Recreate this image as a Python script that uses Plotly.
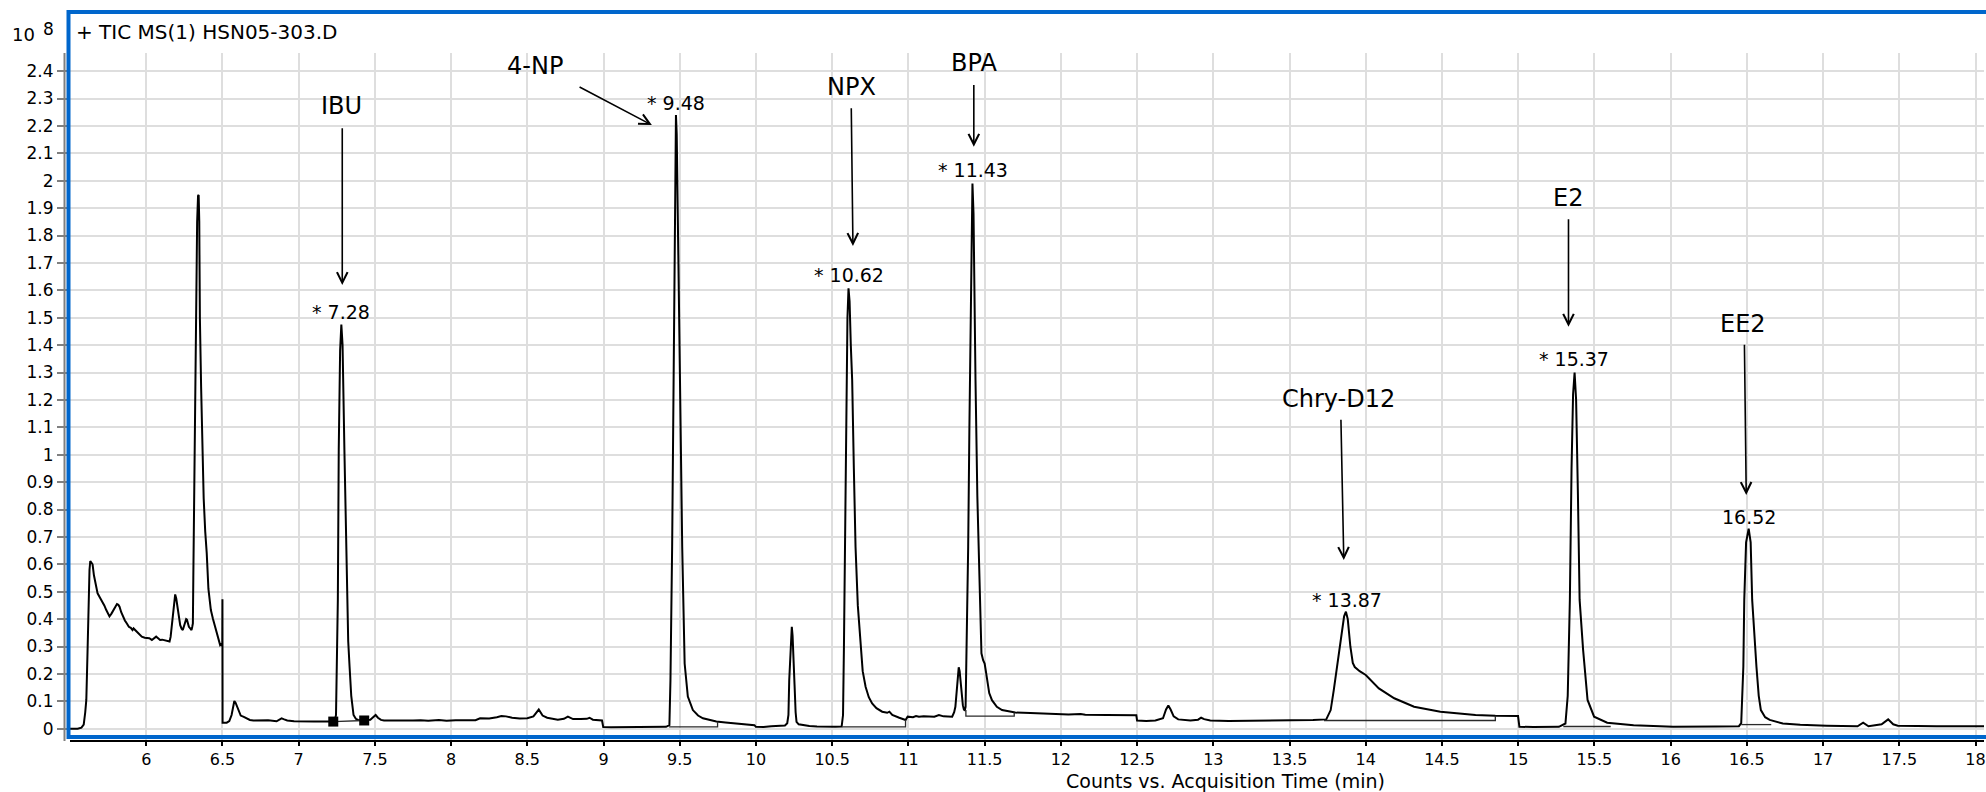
import plotly.graph_objects as go

# ---------------- data ----------------
# TIC chromatogram: acquisition time (min) and counts (x 10^8)
time_min = [
    5.50, 5.55, 5.575, 5.59, 5.60, 5.607, 5.615, 5.622, 5.628, 5.633, 5.640, 5.648, 5.657, 5.666,
    5.674, 5.681, 5.695, 5.709, 5.725, 5.738, 5.749, 5.759, 5.772, 5.786, 5.800, 5.808, 5.817,
    5.825, 5.836, 5.847, 5.860, 5.873, 5.886, 5.899, 5.910, 5.917, 5.930, 5.943, 5.957, 5.971,
    5.990, 6.004, 6.020, 6.037, 6.050, 6.065, 6.078, 6.091, 6.105, 6.124, 6.140, 6.153, 6.160,
    6.168, 6.178, 6.190, 6.197, 6.205, 6.214, 6.223, 6.232, 6.240, 6.248, 6.256, 6.262, 6.267,
    6.273, 6.280, 6.290, 6.297, 6.302, 6.306, 6.309, 6.318, 6.326, 6.334, 6.340, 6.344, 6.348,
    6.352, 6.360, 6.368, 6.377, 6.387, 6.397, 6.408, 6.416, 6.424, 6.438, 6.452, 6.463, 6.474,
    6.485, 6.495, 6.499, 6.500, 6.501, 6.528, 6.545, 6.560, 6.572, 6.578, 6.586, 6.598, 6.608,
    6.620, 6.640, 6.660, 6.680, 6.703, 6.750, 6.800, 6.855, 6.875, 6.888, 6.905, 6.925, 6.970,
    7.008, 7.100, 7.200, 7.236, 7.245, 7.250, 7.257, 7.263, 7.272, 7.280, 7.288, 7.300, 7.316,
    7.325, 7.334, 7.345, 7.360, 7.375, 7.390, 7.430, 7.470, 7.490, 7.505, 7.520, 7.540, 7.560,
    7.650, 7.750, 7.800, 7.850, 7.920, 7.970, 8.030, 8.100, 8.160, 8.190, 8.250, 8.300, 8.330,
    8.360, 8.400, 8.450, 8.500, 8.540, 8.575, 8.600, 8.630, 8.700, 8.740, 8.766, 8.785, 8.800,
    8.850, 8.890, 8.908, 8.930, 8.990, 8.998, 9.050, 9.150, 9.300, 9.410, 9.432, 9.439, 9.450,
    9.459, 9.466, 9.471, 9.475, 9.480, 9.488, 9.497, 9.503, 9.516, 9.532, 9.553, 9.586, 9.620,
    9.652, 9.700, 9.740, 9.800, 9.860, 9.910, 9.960, 9.990, 9.999, 10.050, 10.100, 10.150,
    10.190, 10.205, 10.213, 10.218, 10.226, 10.232, 10.235, 10.240, 10.246, 10.253, 10.260,
    10.266, 10.280, 10.305, 10.350, 10.400, 10.457, 10.520, 10.562, 10.571, 10.577, 10.585,
    10.592, 10.600, 10.607, 10.614, 10.622, 10.631, 10.642, 10.653, 10.668, 10.686, 10.700,
    10.719, 10.740, 10.762, 10.790, 10.828, 10.850, 10.861, 10.875, 10.894, 10.940, 10.981,
    10.995, 11.030, 11.050, 11.069, 11.100, 11.140, 11.170, 11.200, 11.230, 11.287, 11.300,
    11.308, 11.318, 11.326, 11.330, 11.336, 11.345, 11.357, 11.364, 11.370, 11.375, 11.383,
    11.392, 11.400, 11.407, 11.414, 11.420, 11.427, 11.434, 11.440, 11.452, 11.466, 11.479,
    11.490, 11.500, 11.508, 11.516, 11.530, 11.548, 11.580, 11.614, 11.660, 11.701, 11.800,
    11.876, 11.950, 12.050, 12.130, 12.160, 12.300, 12.400, 12.495, 12.500, 12.560, 12.620,
    12.670, 12.690, 12.705, 12.720, 12.740, 12.770, 12.850, 12.900, 12.920, 12.940, 12.980,
    13.100, 13.250, 13.400, 13.568, 13.654, 13.741, 13.770, 13.790, 13.813, 13.842, 13.858,
    13.870, 13.882, 13.899, 13.915, 13.928, 13.960, 14.000, 14.086, 14.187, 14.317, 14.490,
    14.720, 14.850, 14.999, 15.008, 15.100, 15.267, 15.310, 15.325, 15.339, 15.350, 15.360,
    15.370, 15.380, 15.392, 15.403, 15.426, 15.455, 15.498, 15.584, 15.757, 16.016, 16.300,
    16.448, 16.463, 16.477, 16.483, 16.495, 16.512, 16.525, 16.535, 16.550, 16.563, 16.578,
    16.592, 16.620, 16.650, 16.736, 16.850, 17.024, 17.226, 17.263, 17.298, 17.384, 17.427,
    17.460, 17.490, 17.744, 18.080,
]
counts_e8 = [
    0.000, 0.000, 0.004, 0.015, 0.060, 0.105, 0.280, 0.470, 0.580, 0.612, 0.605, 0.600, 0.560, 0.530,
    0.505, 0.494, 0.480, 0.468, 0.450, 0.433, 0.420, 0.410, 0.420, 0.433, 0.450, 0.455, 0.452,
    0.445, 0.425, 0.408, 0.395, 0.384, 0.372, 0.368, 0.360, 0.366, 0.358, 0.354, 0.345, 0.336,
    0.332, 0.330, 0.330, 0.324, 0.330, 0.336, 0.330, 0.324, 0.325, 0.322, 0.320, 0.318, 0.335,
    0.372, 0.440, 0.490, 0.475, 0.445, 0.400, 0.378, 0.365, 0.360, 0.375, 0.390, 0.400, 0.398,
    0.385, 0.372, 0.365, 0.360, 0.372, 0.384, 0.550, 1.020, 1.500, 1.850, 1.945, 1.948, 1.850,
    1.500, 1.250, 1.020, 0.840, 0.720, 0.640, 0.510, 0.460, 0.433, 0.400, 0.372, 0.345, 0.318,
    0.305, 0.310, 0.300, 0.472, 0.022, 0.022, 0.028, 0.050, 0.090, 0.101, 0.095, 0.078, 0.060,
    0.048, 0.043, 0.038, 0.032, 0.030, 0.030, 0.031, 0.027, 0.034, 0.038, 0.034, 0.030, 0.027,
    0.026, 0.026, 0.026, 0.027, 0.050, 0.200, 0.470, 1.020, 1.380, 1.475, 1.400, 1.020, 0.470,
    0.320, 0.226, 0.120, 0.050, 0.036, 0.032, 0.031, 0.033, 0.045, 0.050, 0.040, 0.032, 0.030,
    0.029, 0.030, 0.031, 0.029, 0.032, 0.029, 0.031, 0.030, 0.031, 0.038, 0.037, 0.042, 0.046,
    0.045, 0.040, 0.037, 0.038, 0.045, 0.070, 0.048, 0.040, 0.033, 0.036, 0.044, 0.038, 0.035,
    0.035, 0.036, 0.040, 0.033, 0.030, 0.006, 0.005, 0.005, 0.006, 0.007, 0.013, 0.177, 0.664,
    1.273, 1.800, 2.150, 2.240, 2.170, 1.800, 1.418, 1.273, 0.664, 0.238, 0.117, 0.068, 0.048,
    0.038, 0.030, 0.026, 0.023, 0.020, 0.019, 0.015, 0.013, 0.007, 0.006, 0.009, 0.010,
    0.012, 0.020, 0.050, 0.177, 0.300, 0.360, 0.372, 0.340, 0.280, 0.160, 0.060,
    0.025, 0.016, 0.013, 0.010, 0.008, 0.007, 0.007, 0.008, 0.050, 0.300, 0.800,
    1.273, 1.500, 1.607, 1.560, 1.400, 1.273, 0.950, 0.664, 0.450, 0.300, 0.210,
    0.153, 0.115, 0.092, 0.075, 0.062, 0.060, 0.058, 0.062, 0.050, 0.040, 0.032,
    0.044, 0.042, 0.046, 0.044, 0.045, 0.046, 0.044, 0.050, 0.045, 0.044, 0.060,
    0.080, 0.160, 0.215, 0.224, 0.210, 0.150, 0.086, 0.070, 0.068, 0.080, 0.300,
    0.664, 1.100, 1.500, 1.850, 1.990, 1.880, 1.500, 1.273, 0.850, 0.543, 0.275,
    0.250, 0.238, 0.210, 0.177, 0.130, 0.104, 0.080, 0.068, 0.062, 0.059, 0.057,
    0.056, 0.054, 0.052, 0.054, 0.051, 0.050, 0.049, 0.049, 0.030, 0.028, 0.030,
    0.038, 0.070, 0.085, 0.070, 0.045, 0.034, 0.030, 0.033, 0.040, 0.035, 0.030,
    0.028, 0.029, 0.028, 0.029, 0.032, 0.034, 0.068, 0.140, 0.226, 0.348, 0.410,
    0.427, 0.400, 0.300, 0.240, 0.225, 0.210, 0.196, 0.147, 0.111, 0.080, 0.062,
    0.050, 0.047, 0.046, 0.007, 0.006, 0.007, 0.019, 0.120, 0.470, 0.950, 1.220,
    1.300, 1.200, 0.850, 0.470, 0.287, 0.105, 0.044, 0.022, 0.013, 0.007, 0.008,
    0.009, 0.020, 0.226, 0.470, 0.680, 0.730, 0.680, 0.470, 0.330, 0.226, 0.120,
    0.068, 0.042, 0.032, 0.019, 0.014, 0.011, 0.009, 0.022, 0.009, 0.016, 0.034,
    0.016, 0.011, 0.009, 0.009,
]

# integration baselines (time, counts x 10^8)
bl_ibu_x = [7.227, 7.430]
bl_ibu_y = [0.026, 0.030]
bl_4np_x = [9.430, 9.748, 9.748]
bl_4np_y = [0.007, 0.007, 0.025]
bl_npx_x = [10.566, 10.981, 10.981]
bl_npx_y = [0.007, 0.007, 0.032]
bl_bpa_x = [11.377, 11.377, 11.694, 11.694]
bl_bpa_y = [0.068, 0.046, 0.046, 0.059]
bl_chry_x = [13.726, 14.850, 14.850]
bl_chry_y = [0.030, 0.030, 0.047]
bl_e2_x = [15.296, 15.607]
bl_e2_y = [0.008, 0.008]
bl_ee2_x = [16.463, 16.660]
bl_ee2_y = [0.015, 0.015]

# compound labels and arrows
compound_names = ["IBU", "4-NP", "NPX", "BPA", "Chry-D12", "E2", "EE2"]
name_x = [7.281, 8.551, 10.625, 11.429, 13.821, 15.325, 16.477]
name_y = [2.272, 2.419, 2.343, 2.428, 1.202, 1.938, 1.477]
arrow_tail_x = [7.286, 8.833, 10.625, 11.429, 13.837, 15.330, 16.484]
arrow_tail_y = [2.197, 2.345, 2.270, 2.355, 1.133, 1.865, 1.407]
arrow_tip_x = [7.286, 9.317, 10.636, 11.429, 13.856, 15.330, 16.496]
arrow_tip_y = [1.619, 2.203, 1.762, 2.124, 0.616, 1.467, 0.853]

rt_labels = ["* 7.28", "* 9.48", "* 10.62", "* 11.43", "* 13.87", "* 15.37", "16.52"]
rt_x = [7.279, 9.474, 10.610, 11.425, 13.874, 15.365, 16.517]
rt_y = [1.522, 2.285, 1.656, 2.039, 0.470, 1.350, 0.771]

x_ticks = [6, 6.5, 7, 7.5, 8, 8.5, 9, 9.5, 10, 10.5, 11, 11.5, 12, 12.5, 13, 13.5,
           14, 14.5, 15, 15.5, 16, 16.5, 17, 17.5, 18]
x_tick_text = ["6", "6.5", "7", "7.5", "8", "8.5", "9", "9.5", "10", "10.5", "11", "11.5",
               "12", "12.5", "13", "13.5", "14", "14.5", "15", "15.5", "16", "16.5", "17",
               "17.5", "18"]
y_ticks = [0, 0.1, 0.2, 0.3, 0.4, 0.5, 0.6, 0.7, 0.8, 0.9, 1, 1.1, 1.2, 1.3, 1.4, 1.5,
           1.6, 1.7, 1.8, 1.9, 2, 2.1, 2.2, 2.3, 2.4]
y_tick_text = ["0", "0.1", "0.2", "0.3", "0.4", "0.5", "0.6", "0.7", "0.8", "0.9", "1",
               "1.1", "1.2", "1.3", "1.4", "1.5", "1.6", "1.7", "1.8", "1.9", "2", "2.1",
               "2.2", "2.3", "2.4"]

chart_title = "+ TIC MS(1) HSN05-303.D"
x_title = "Counts vs. Acquisition Time (min)"

# ---------------- figure ----------------
FONT = "DejaVu Sans"
W, H = 1986, 792
L, R, T, B = 70, 0, 53, 52
PW, PH = W - L - R, H - T - B


def px_x(p):
    return (p - L) / PW


def px_y(p):
    return (H - B - p) / PH


fig = go.Figure()

fig.add_trace(go.Scatter(x=time_min, y=counts_e8, mode="lines",
                         line=dict(color="black", width=2), hoverinfo="skip",
                         showlegend=False))

for bx, by in [(bl_4np_x, bl_4np_y), (bl_npx_x, bl_npx_y), (bl_bpa_x, bl_bpa_y),
               (bl_chry_x, bl_chry_y), (bl_e2_x, bl_e2_y), (bl_ee2_x, bl_ee2_y)]:
    fig.add_trace(go.Scatter(x=bx, y=by, mode="lines",
                             line=dict(color="#2a2a2a", width=1.3),
                             hoverinfo="skip", showlegend=False))

fig.add_trace(go.Scatter(x=bl_ibu_x, y=bl_ibu_y, mode="lines+markers",
                         line=dict(color="#2a2a2a", width=1.3),
                         marker=dict(symbol="square", size=10, color="black"),
                         hoverinfo="skip", showlegend=False))

annotations = []
for n, x, y in zip(compound_names, name_x, name_y):
    annotations.append(dict(x=x, y=y, xref="x", yref="y", text=n, showarrow=False,
                            xanchor="center", yanchor="middle",
                            font=dict(family=FONT, size=24, color="black")))
for tx, ty, hx, hy in zip(arrow_tail_x, arrow_tail_y, arrow_tip_x, arrow_tip_y):
    annotations.append(dict(x=hx, y=hy, ax=tx, ay=ty, xref="x", yref="y",
                            axref="x", ayref="y", text="", showarrow=True,
                            arrowhead=5, arrowsize=1.3, arrowwidth=1.6,
                            arrowcolor="black"))
for t, x, y in zip(rt_labels, rt_x, rt_y):
    annotations.append(dict(x=x, y=y, xref="x", yref="y", text=t, showarrow=False,
                            xanchor="center", yanchor="middle",
                            font=dict(family=FONT, size=19, color="black")))

annotations.append(dict(x=px_x(74), y=px_y(32), xref="paper", yref="paper",
                        text=chart_title, showarrow=False, xanchor="left",
                        yanchor="middle", font=dict(family=FONT, size=20, color="black")))
annotations.append(dict(x=px_x(23), y=px_y(35), xref="paper", yref="paper",
                        text="10", showarrow=False, xanchor="center",
                        yanchor="middle", font=dict(family=FONT, size=18, color="black")))
annotations.append(dict(x=px_x(48), y=px_y(29), xref="paper", yref="paper",
                        text="8", showarrow=False, xanchor="center",
                        yanchor="middle", font=dict(family=FONT, size=17, color="black")))
annotations.append(dict(x=13.08, y=px_y(781), xref="x", yref="paper",
                        text=x_title, showarrow=False, xanchor="center",
                        yanchor="middle", font=dict(family=FONT, size=19, color="black")))

shapes = [
    # blue frame around the plot and title
    dict(type="rect", xref="paper", yref="paper",
         x0=px_x(68.5), x1=1.01, y0=px_y(737), y1=px_y(12),
         line=dict(color="#0066CC", width=4), fillcolor="rgba(0,0,0,0)", layer="above"),
    # gray y-axis line
    dict(type="line", xref="paper", yref="paper",
         x0=px_x(64.5), x1=px_x(64.5), y0=px_y(741), y1=px_y(53),
         line=dict(color="#808080", width=2)),
]

fig.update_layout(
    width=W, height=H, autosize=False,
    margin=dict(l=L, r=R, t=T, b=B, pad=0),
    paper_bgcolor="white", plot_bgcolor="white",
    font=dict(family=FONT, size=17, color="black"),
    showlegend=False,
    annotations=annotations,
    shapes=shapes,
    xaxis=dict(range=[5.5, 5.5 + PW / 152.6], tickmode="array", tickvals=x_ticks,
               ticktext=x_tick_text, showgrid=True, gridcolor="#dedede", gridwidth=1.5,
               zeroline=False, showline=True, linecolor="black", linewidth=2,
               ticks="outside", ticklen=4, tickcolor="black", tickwidth=1.5,
               ticklabeloverflow="allow",
               tickfont=dict(family=FONT, size=16, color="black")),
    yaxis=dict(range=[(728.7 - (H - B)) / 274, (728.7 - T) / 274], tickmode="array",
               tickvals=y_ticks, ticktext=y_tick_text, showgrid=True,
               gridcolor="#dedede", gridwidth=1.5, zeroline=False, showline=False,
               ticks="outside", ticklen=12, tickcolor="#808080", tickwidth=1.5,
               tickfont=dict(family=FONT, size=17, color="black")),
)

fig.write_html("out.html", config={"displayModeBar": False},
               post_script="document.body.style.margin='0';document.body.style.overflow='hidden';")
